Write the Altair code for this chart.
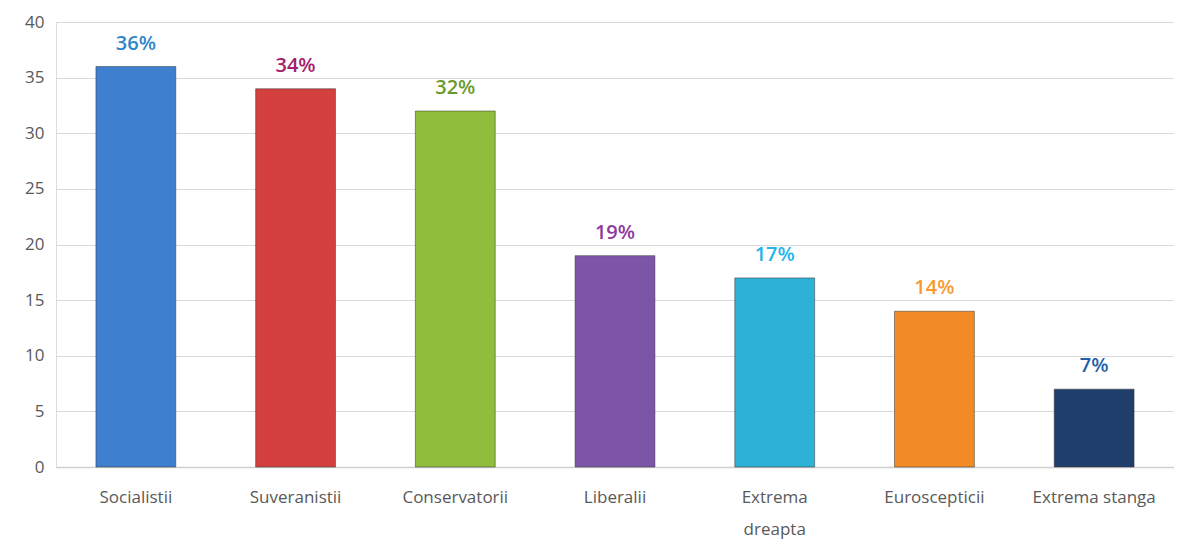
import altair as alt
import pandas as pd

categories = ["Socialistii", "Suveranistii", "Conservatorii", "Liberalii",
              "Extrema dreapta", "Euroscepticii", "Extrema stanga"]
values = [36, 34, 32, 19, 17, 14, 7]
labels = ["36%", "34%", "32%", "19%", "17%", "14%", "7%"]
bar_colors = ["#3F7FCF", "#D4403D", "#90BE3C", "#7D55A8", "#2DB1D5", "#F28A26", "#1F3E6C"]
label_colors = ["#2E86C8", "#A3206F", "#6A9A2E", "#8E3A9E", "#1FB5E8", "#F79A2E", "#1F5FA8"]

df = pd.DataFrame({"cat": categories, "val": values, "lab": labels})

x = alt.X("cat:N", sort=categories, title=None,
          scale=alt.Scale(paddingInner=0.5, paddingOuter=0.25),
          axis=alt.Axis(labelAngle=0, labelFontSize=17, labelColor="#595959",
                        labelFont="Open Sans", labelPadding=22, ticks=False,
                        domainColor="#d0d0d0", domainWidth=1.5,
                        labelExpr="datum.label == 'Extrema dreapta' ? ['Extrema', 'dreapta'] : datum.label",
                        labelLineHeight=32))
y = alt.Y("val:Q", title=None,
          scale=alt.Scale(domain=[0, 40]),
          axis=alt.Axis(values=[0, 5, 10, 15, 20, 25, 30, 35, 40], labelFontSize=17,
                        labelColor="#595959", labelFont="Open Sans", ticks=False,
                        domain=False, gridColor="#d9d9d9", gridWidth=1.2, labelPadding=12))

color = alt.Color("cat:N", sort=categories, legend=None,
                  scale=alt.Scale(domain=categories, range=bar_colors))

bars = alt.Chart(df).mark_bar(strokeWidth=1, strokeOpacity=0.5, stroke="#333333").encode(
    x=x, y=y, color=color)
text = alt.Chart(df).mark_text(dy=-13, fontSize=20, fontWeight=600, font="Open Sans",
                               baseline="bottom").encode(
    x=alt.X("cat:N", sort=categories), y="val:Q", text="lab:N",
    color=alt.Color("cat:N", sort=categories, legend=None,
                    scale=alt.Scale(domain=categories, range=label_colors)))

chart = alt.layer(bars, text).resolve_scale(color="independent").properties(
    width=1118, height=445,
    padding={"left": 16, "top": 5, "right": 0, "bottom": 5}
).configure_view(strokeWidth=0, stroke="transparent").configure(background="white")

chart.save("out.html", embed_options={"renderer": "svg", "actions": False})
